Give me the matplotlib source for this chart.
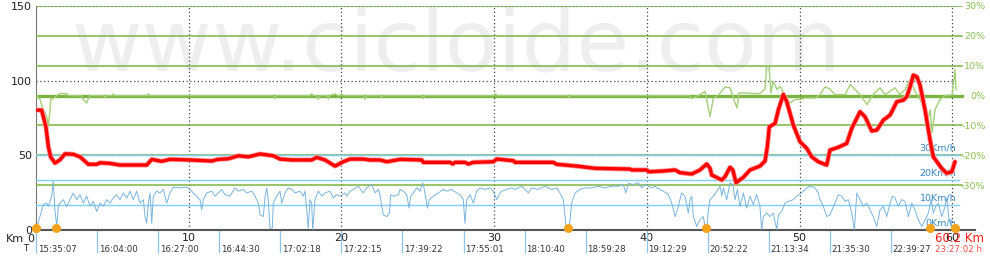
import matplotlib
matplotlib.use("Agg")
import matplotlib.pyplot as plt
import matplotlib.transforms as mtransforms

# altitude profile (m) against distance (km)
alt_km = [0.05, 0.37, 0.65, 0.81, 0.96, 1.24, 1.57, 1.90, 2.44, 2.88, 3.43, 3.98, 4.19, 4.85,
          5.50, 7.25, 7.58, 8.23, 8.78, 10.09, 11.51, 11.92, 12.59, 13.25, 13.90, 14.67, 15.54,
          15.98, 16.75, 18.05, 18.38, 18.93, 19.58, 20.12, 20.56, 21.43, 21.87, 22.53, 22.97,
          23.84, 25.26, 25.36, 27.11, 27.29, 27.44, 28.09, 28.31, 28.64, 29.95, 30.17, 31.26,
          31.37, 33.88, 34.10, 35.41, 36.61, 38.90, 39.01, 39.99, 40.14, 41.08, 41.85, 42.17,
          42.94, 43.48, 43.92, 44.14, 44.25, 44.91, 45.12, 45.45, 45.63, 45.84, 46.32, 46.76,
          47.41, 47.74, 47.89, 48.02, 48.40, 48.61, 48.94, 49.16, 49.38, 49.59, 50.03, 50.47,
          50.80, 51.23, 51.78, 51.99, 52.54, 53.09, 53.42, 53.96, 54.29, 54.73, 55.06, 55.49,
          55.93, 56.37, 56.80, 57.02, 57.24, 57.45, 57.68, 57.89, 58.22, 58.55, 58.76, 59.31,
          59.64, 59.97, 60.18]
alt_m = [80.3, 80.3, 69.0, 55.8, 49.0, 44.8, 47.0, 51.0, 50.7, 49.0, 44.0, 44.0, 45.0, 44.6,
         43.5, 43.5, 47.3, 46.0, 47.3, 46.9, 46.2, 47.3, 47.7, 49.7, 49.0, 50.9, 49.7,
         47.5, 46.9, 46.9, 48.6, 46.9, 42.8, 45.7, 47.5, 47.5, 46.9, 46.9, 45.7,
         47.3, 46.9, 45.3, 45.3, 44.2, 45.3, 45.3, 44.2, 45.3, 45.7, 47.5, 46.4,
         45.3, 45.3, 44.0, 42.8, 41.3, 40.8, 40.2, 40.2, 39.0, 39.5, 40.2, 38.4,
         37.5, 40.2, 44.2, 41.3, 36.8, 33.5, 35.7, 42.0, 40.2, 31.7, 35.3, 40.2,
         42.8, 46.2, 55.8, 69.1, 71.4, 80.3, 90.8, 85.9, 78.1, 70.3, 59.1, 54.7,
         49.0, 45.7, 43.5, 53.5, 55.4, 58.0, 68.1, 79.2, 75.8, 66.3, 66.9, 73.6,
         77.0, 85.9, 87.0, 89.2, 95.9, 103.7, 102.6, 97.1, 80.3, 60.2, 49.0, 41.3,
         38.0, 39.0, 45.7]

# gradient (%) against distance (km)
grade_km = [0.05, 0.26, 0.48, 0.70, 0.81, 0.92, 0.96, 1.13, 1.46, 1.57, 2.01, 2.12, 2.99, 3.05,
            3.32, 3.43, 3.54, 4.45, 4.52, 4.65, 5.00, 5.06, 5.15, 7.30, 7.35, 7.45,
            15.55, 15.65, 15.75, 17.95, 18.05, 18.15, 18.40, 18.49, 18.58, 19.05, 19.14, 19.23,
            19.60, 19.75, 19.95, 20.02, 20.10, 21.45, 21.55, 21.65, 22.55, 22.64, 22.73,
            25.27, 25.36, 25.45, 30.00, 30.10, 30.20, 34.83, 34.92, 35.01, 42.80,
            42.94, 43.48, 43.81, 44.14, 44.36, 44.66, 45.12, 45.45, 45.78, 45.91, 46.04, 46.43,
            46.89, 47.41, 47.74, 47.85, 48.00, 48.13, 48.26, 48.53, 48.72, 49.05, 49.38, 49.71,
            50.03, 50.36, 51.01, 51.34, 51.67, 51.99, 52.32, 52.98, 53.31, 53.63, 53.96, 54.42,
            54.81, 55.27, 55.60, 56.25, 56.58, 56.91, 57.24, 57.56, 57.89, 58.22, 58.42, 58.55,
            58.68, 58.87, 59.20, 59.53, 59.99, 60.18, 60.25]
grade_pct = [0, -1.3, -4.7, -7.0, -10.3, -4.7, -1.3, -1.0, 0.3, 0.7, 0.7, 0, 0, -1.0,
             -2.5, -1.0, 0, 0, -0.8, 0, 0, 0.6, 0, 0, 0.6, 0,
             0, -1.1, 0, 0, 0.6, 0, 0, -1.3, 0, 0, -1.1, 0,
             0.6, 0, 0, 0.7, 0, 0, -1.3, 0, 0, -0.8, 0,
             0, -1.0, 0, 0, 0.6, 0, 0, -0.8, 0, 0,
             -1.0, 0.3, 1.4, -7.0, -0.8, 0, 2.9, 2.6, -2.5, -4.1, 0.9, 0.9,
             0.7, 0.7, 2.2, 9.8, 9.8, 0.9, 4.8, 2.0, 3.1, 0, -2.5, -1.3,
             -1.3, -0.8, -0.8, 0.3, 2.9, 2.2, 0.3, 0.3, 3.7, 2.0, 0.3, -3.0,
             0.3, 2.6, 0.3, 2.6, 0.3, 2.0, 5.4, 1.4, -1.3, -4.7, -8.0, -4.7,
             -12.4, -4.7, -1.3, 0, 0.2, 8.7, 2.0]

# speed (km/h) against distance (km)
speed_km = [0.05, 0.26, 0.48, 0.70, 0.81, 0.92, 1.03, 1.13, 1.24, 1.36, 1.46, 1.57, 1.79, 2.01,
            2.23, 2.44, 2.67, 2.88, 3.10, 3.32, 3.54, 3.75, 3.98, 4.19, 4.41, 4.63, 4.85, 5.06,
            5.28, 5.50, 5.72, 5.94, 6.16, 6.37, 6.59, 6.81, 7.03, 7.14, 7.25, 7.35, 7.47, 7.58,
            7.68, 7.90, 8.12, 8.34, 8.56, 8.78, 8.99, 9.43, 9.87, 10.09, 10.41, 10.74, 10.85,
            10.96, 11.18, 11.51, 11.72, 11.94, 12.16, 12.38, 12.70, 13.03, 13.25, 13.58, 13.80,
            14.13, 14.34, 14.56, 14.67, 14.89, 15.00, 15.11, 15.21, 15.32, 15.47, 15.54, 15.76,
            15.98, 16.09, 16.31, 16.52, 16.75, 16.96, 17.29, 17.50, 17.62, 17.73, 17.83, 17.94,
            18.05, 18.12, 18.27, 18.49, 18.71, 18.93, 19.25, 19.47, 19.69, 19.91, 20.24, 20.35,
            20.56, 20.78, 21.11, 21.43, 21.65, 21.98, 22.20, 22.42, 22.53, 22.64, 22.74, 22.97,
            23.14, 23.23, 23.40, 23.73, 23.84, 24.05, 24.28, 24.43, 24.54, 24.71, 24.93, 25.15,
            25.32, 25.41, 25.54, 25.63, 25.76, 26.02, 26.35, 26.67, 26.90, 27.22, 27.55, 27.77,
            27.98, 28.09, 28.21, 28.42, 28.64, 28.86, 29.08, 29.40, 29.73, 29.95, 30.17, 30.39,
            30.50, 30.82, 31.15, 31.37, 31.81, 32.24, 32.46, 32.89, 33.33, 33.77, 34.10, 34.31,
            34.53, 34.64, 34.71, 34.91, 34.99, 35.08, 35.30, 35.63, 35.95, 36.39, 36.82, 37.26,
            37.70, 38.13, 38.46, 38.62, 38.79, 39.12, 39.44, 39.66, 39.88, 40.10, 40.32, 40.54,
            40.65, 41.08, 41.41, 41.63, 41.85, 42.06, 42.28, 42.50, 42.72, 42.83, 42.94, 43.05,
            43.27, 43.48, 43.70, 43.81, 43.92, 44.03, 44.14, 44.36, 44.58, 44.79, 44.91, 45.01,
            45.23, 45.45, 45.63, 45.78, 45.93, 46.10, 46.32, 46.54, 46.76, 46.97, 47.19, 47.41,
            47.52, 47.63, 47.85, 48.07, 48.28, 48.51, 48.61, 48.83, 49.05, 49.27, 49.59, 49.82,
            50.14, 50.47, 50.69, 51.01, 51.23, 51.34, 51.56, 51.78, 51.99, 52.32, 52.54, 52.76,
            52.98, 53.20, 53.42, 53.59, 53.75, 53.96, 54.18, 54.40, 54.62, 54.83, 55.06, 55.27,
            55.49, 55.71, 55.93, 56.08, 56.25, 56.47, 56.69, 56.91, 57.13, 57.35, 57.56, 57.78,
            58.00, 58.22, 58.44, 58.61, 58.76, 58.92, 59.09, 59.31, 59.53, 59.64, 59.79, 59.97,
            60.14]
speed_kmh = [1.4, 5.4, 10.2, 10.8, 9.5, 11.5, 13.6, 19.6, 8.1, 1.4, 9.5, 10.8, 12.2, 9.5,
             12.2, 14.9, 12.2, 14.2, 10.8, 13.6, 9.5, 11.5, 7.4, 10.8, 9.5, 12.2, 10.8, 12.9,
             14.2, 12.2, 14.9, 12.9, 15.6, 12.2, 15.6, 10.8, 12.2, 5.4, 2.7, 10.8, 14.9, 2.7,
             13.6, 15.6, 14.9, 16.3, 10.8, 14.9, 17.2, 16.9, 17.2, 16.3, 14.2, 12.2, 8.1,
             12.2, 14.9, 15.6, 13.6, 14.9, 16.3, 14.2, 13.6, 16.9, 15.6, 16.3, 14.9,
             15.6, 13.6, 10.8, 6.1, 5.4, 13.6, 16.9, 12.2, 0.7, 0.7, 10.8, 13.6,
             15.6, 10.8, 14.9, 16.9, 16.3, 14.9, 15.6, 13.6, 15.6, 8.1, 0.7, 12.2,
             10.8, 0.0, 12.2, 15.6, 13.6, 14.9, 15.6, 12.9, 14.2, 13.6, 14.9, 13.6,
             15.6, 16.3, 17.6, 14.9, 16.9, 18.3, 14.9, 16.3, 14.2, 9.5, 6.1, 5.4,
             6.8, 14.2, 13.6, 14.2, 16.3, 15.6, 14.2, 8.8, 13.6, 14.9, 16.9, 15.6,
             19.0, 16.9, 12.2, 8.8, 12.2, 13.6, 14.9, 16.3, 15.6, 16.3, 14.9, 14.2,
             12.2, 2.7, 12.2, 14.2, 10.8, 15.6, 16.9, 16.3, 16.9, 15.6, 12.2, 14.9,
             15.6, 16.3, 16.9, 16.3, 17.6, 14.9, 16.9, 16.3, 17.6, 16.3, 16.9, 14.9,
             12.2, 5.4, 1.4, 0.0, 5.4, 10.8, 14.9, 16.3, 16.9, 16.9, 17.6, 16.9,
             17.6, 17.6, 18.3, 14.9, 18.7, 18.3, 19.0, 16.9, 18.3, 17.6, 16.9, 17.6,
             16.9, 15.6, 14.2, 10.8, 5.4, 9.5, 14.9, 13.6, 6.8, 12.2, 13.6, 5.4,
             1.4, 4.1, 5.4, 1.4, 0.0, 8.1, 12.2, 13.6, 15.6, 17.6, 13.6, 16.9,
             12.2, 19.0, 18.3, 12.2, 16.3, 9.5, 14.9, 8.8, 13.6, 10.2, 14.2, 9.5,
             0.0, 5.4, 6.8, 5.4, 6.8, 0.0, 6.1, 7.4, 10.8, 11.5, 12.2, 13.6,
             14.9, 16.9, 17.6, 16.9, 14.9, 12.2, 9.5, 5.4, 6.1, 10.8, 14.2, 13.6,
             11.5, 12.2, 6.8, 0.0, 14.9, 12.2, 9.5, 10.8, 8.1, 5.4, 1.4, 8.1,
             9.5, 5.4, 10.8, 13.6, 12.9, 9.5, 12.2, 11.5, 5.4, 10.8, 8.1, 4.1,
             1.4, 4.1, 6.8, 12.2, 6.8, 9.5, 10.8, 5.4, 9.5, 12.9, 4.1, 1.4,
             0.7]

# stops
stop_km = [0.0, 1.3, 34.85, 43.9, 58.55, 60.15]

# time of day every 4 km
time_km = [0, 4, 8, 12, 16, 20, 24, 28, 32, 36, 40, 44, 48, 52, 56]
time_labels = ["15:35:07", "16:04:00", "16:27:00", "16:44:30", "17:02:18", "17:22:15",
               "17:39:22", "17:55:01", "18:10:40", "18:59:28", "19:12:29", "20:52:22",
               "21:13:34", "21:35:30", "22:39:27"]
total_km = 60.2
end_time = "23:27:02 h"

alt_ticks = [0, 50, 100, 150]
km_ticks = [10, 20, 30, 40, 50, 60]
grade_ticks = [-30, -20, -10, 0, 10, 20, 30]
speed_ticks = [10, 20, 30]

GREEN = "#7cb342"
LIGHT_GREEN = "#a3cf78"
BLUE_LINE = "#7fd0f4"
BLUE_SERIES = "#7ab4dc"
BLUE_TEXT = "#3b88c3"
GRID = "#444444"

fig = plt.figure(figsize=(9.9, 2.7), dpi=100)
ax = fig.add_axes([36 / 990, 40 / 270, 939 / 990, 224 / 270])
ax.set_xlim(0, 61.49)
ax.set_ylim(0, 150)

# watermark
ax.text(0.038, 0.71, "www.cicloide.com", transform=ax.transAxes, fontsize=62,
        color="#eeeeee", ha="left", va="baseline", zorder=0)

# grid
for k in km_ticks:
    ax.axvline(k, color=GRID, lw=0.9, ls=(0, (1, 2)), zorder=1)
for a in alt_ticks[1:]:
    ax.axhline(a, xmax=0.979, color=GRID, lw=0.9, ls=(0, (1, 2)), zorder=1)

for side in ["top", "right"]:
    ax.spines[side].set_visible(False)
ax.spines["left"].set_color("#777777")
ax.spines["bottom"].set_color("#555555")
ax.spines["bottom"].set_linewidth(1.5)
ax.set_yticks(alt_ticks)
ax.set_yticklabels([str(a) for a in alt_ticks], fontsize=8, color="#222222")
ax.set_xticks(km_ticks)
ax.set_xticklabels([str(k) for k in km_ticks], fontsize=8, color="#222222")
ax.tick_params(axis="y", length=0, pad=3)
ax.tick_params(axis="x", length=0, pad=2)

# km / time rows under the axis
trans = mtransforms.blended_transform_factory(ax.transData, ax.transAxes)
ax.text(-0.032, -0.038, "Km", transform=ax.transAxes, fontsize=8, ha="left", va="center",
        color="#222222")
ax.text(-0.1, -0.038, "0", transform=trans, fontsize=8, ha="right", va="center",
        color="#222222")
ax.text(-0.55, -0.084, "T", transform=trans, fontsize=6, ha="right", va="center",
        color="#222222")
for k, lab in zip(time_km, time_labels):
    ax.plot([k, k], [0, -0.1], transform=trans, color="#8ec3e6", lw=0.9, clip_on=False)
    ax.text(k + 0.1, -0.086, lab, transform=trans, fontsize=6.2, ha="left", va="center",
            color="#333333")
ax.text(total_km - 1.35, -0.038, f"{total_km} Km", transform=trans, fontsize=8.5,
        ha="left", va="center", color="#ff1a1a")
ax.text(total_km - 1.35, -0.086, end_time, transform=trans, fontsize=6.2,
        ha="left", va="center", color="#ff4d4d")

# gradient axis
gax = ax.twinx()
gax.set_ylim(-45, 30)
for side in ["top", "right", "left", "bottom"]:
    gax.spines[side].set_visible(False)
for g in grade_ticks:
    gax.axhline(g, xmax=0.986, color=GREEN, lw=2.4 if g == 0 else 1.1, zorder=2)
gax.plot(grade_km, grade_pct, color=LIGHT_GREEN, lw=1.0, zorder=3)
gax.set_yticks(grade_ticks)
gax.set_yticklabels([f"{g}%" for g in grade_ticks], fontsize=6.8, color="#8dc05a", ha="right")
gax.tick_params(axis="y", length=0, pad=7.5)

# speed axis
sax = ax.twinx()
sax.set_ylim(0, 90)
sax.axis("off")
for s in speed_ticks:
    sax.axhline(s, xmax=0.983, color=BLUE_LINE, lw=1.0, zorder=2)
sax.plot(speed_km, speed_kmh, color=BLUE_SERIES, lw=0.7, zorder=3)
for s in [0] + speed_ticks:
    sax.text(60.25, s + 1.0, f"{s}Km/h", fontsize=6.8, color=BLUE_TEXT, ha="right",
             va="bottom")

# altitude on top
aax = ax.twinx()
aax.set_ylim(0, 150)
aax.axis("off")
aax.plot(alt_km, alt_m, color="#ff9999", lw=3.6, solid_capstyle="round", zorder=3)
aax.plot(alt_km, alt_m, color="#ff0000", lw=2.4, solid_capstyle="round", zorder=4)
aax.plot(stop_km, [1.5] * len(stop_km), "o", color="#f5a31a", ms=5.5, clip_on=False,
         zorder=5)

fig.savefig("out.png", dpi=100)
